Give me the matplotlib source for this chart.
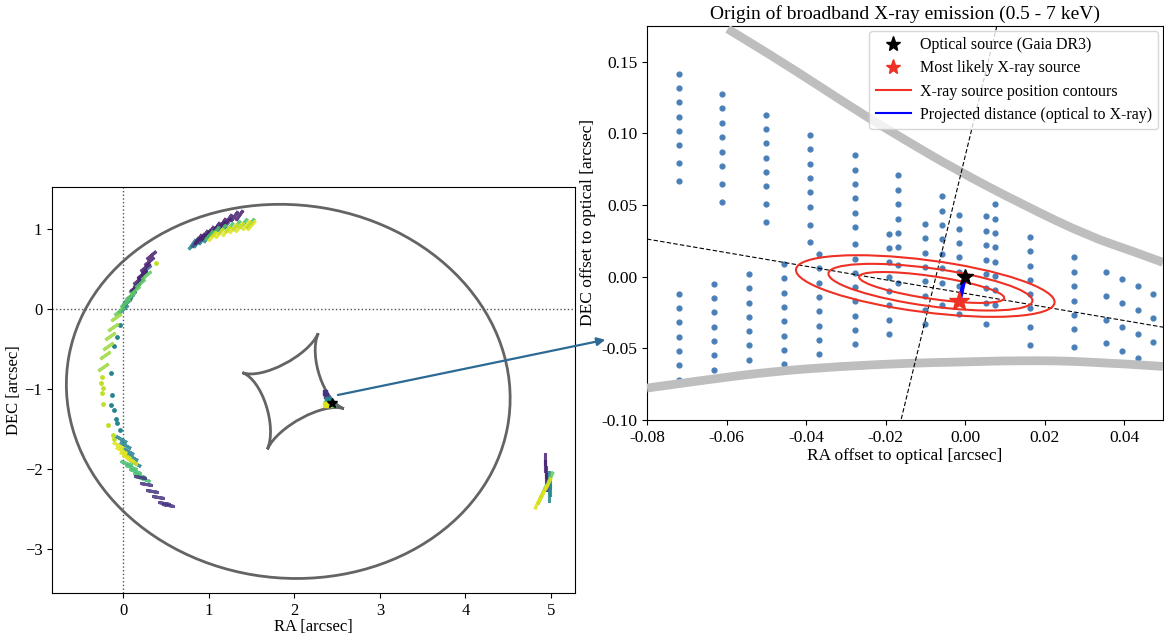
import numpy as np
import matplotlib
matplotlib.use("Agg")
import matplotlib.pyplot as plt
from matplotlib.patches import Ellipse, PathPatch, ConnectionPatch
from matplotlib.path import Path
from matplotlib.lines import Line2D

plt.rcParams["font.family"] = ["Liberation Serif", "DejaVu Serif"]

# ---------- left panel : lens model ----------
# critical curve (centre, semi axes, rotation) and caustic cusps
crit_centre = (1.93, -1.03)
crit_axes = (2.60, 2.33)
crit_angle = -10
cusps_x = [2.28, 1.395, 1.686, 2.58]     # top, left, bottom, right
cusps_y = [-0.304, -0.796, -1.754, -1.246]

# lensed image strands (centres), grouped by colour
top_dark_x = [0.88, 0.95, 1.02, 1.09, 1.16, 1.23, 1.30, 1.36]
top_dark_y = [0.87, 0.93, 0.98, 1.03, 1.08, 1.12, 1.16, 1.18]
top_blue_x = [0.84, 0.91, 0.98, 1.06, 1.14, 1.22]
top_blue_y = [0.84, 0.89, 0.94, 0.99, 1.04, 1.08]
top_teal_x = [0.81, 0.86, 0.92, 0.98]
top_teal_y = [0.81, 0.84, 0.87, 0.90]
top_green_x = [1.00, 1.08, 1.16, 1.24, 1.32, 1.40, 1.48]
top_green_y = [0.93, 0.97, 1.00, 1.03, 1.05, 1.07, 1.07]
top_yellow_x = [1.04, 1.12, 1.20, 1.28, 1.36, 1.44, 1.50]
top_yellow_y = [0.91, 0.95, 0.98, 1.01, 1.03, 1.05, 1.05]

up_dark_x = [0.14, 0.18, 0.22, 0.26, 0.30, 0.33]
up_dark_y = [0.28, 0.36, 0.44, 0.52, 0.60, 0.67]
up_blue_x = [0.05, 0.09, 0.13, 0.17, 0.22, 0.27]
up_blue_y = [0.10, 0.18, 0.26, 0.33, 0.42, 0.50]
up_teal_x = [0.00, 0.03, 0.07]
up_teal_y = [0.00, 0.07, 0.14]
up_green_x = [-0.05, 0.02, 0.08, 0.14, 0.20, 0.27]
up_green_y = [-0.02, 0.08, 0.16, 0.24, 0.32, 0.42]
mid_yellow_x = [-0.08, -0.12, -0.15, -0.18, -0.21, -0.24]
mid_yellow_y = [-0.10, -0.22, -0.34, -0.46, -0.58, -0.72]

low_yellow_x = [-0.06, -0.02, 0.02, 0.06, 0.10]
low_yellow_y = [-1.70, -1.76, -1.82, -1.86, -1.90]
low_teal_x = [-0.02, 0.02, 0.06, 0.10, 0.14]
low_teal_y = [-1.62, -1.70, -1.78, -1.85, -1.92]
low_green_x = [0.04, 0.09, 0.14, 0.19, 0.24]
low_green_y = [-1.93, -1.97, -2.02, -2.07, -2.12]
low_dark_x = [0.20, 0.27, 0.34, 0.41, 0.48, 0.52]
low_dark_y = [-2.10, -2.19, -2.27, -2.35, -2.42, -2.45]

right_dark_x = [4.93, 4.93, 4.94, 4.94, 4.95]
right_dark_y = [-1.88, -1.96, -2.04, -2.12, -2.20]
right_teal_x = [4.98, 4.99, 4.99, 4.98]
right_teal_y = [-2.10, -2.18, -2.26, -2.34]
right_green_x = [4.87, 4.91, 4.95, 4.99]
right_green_y = [-2.36, -2.27, -2.19, -2.10]
right_yellow_x = [4.84, 4.88, 4.92, 4.96]
right_yellow_y = [-2.42, -2.34, -2.26, -2.18]

cau_x = [2.36, 2.37, 2.39, 2.42, 2.38, 2.45, 2.36, 2.40]
cau_y = [-1.04, -1.08, -1.13, -1.16, -1.18, -1.19, -1.19, -1.20]
cau_c = [0.15, 0.15, 0.45, 0.45, 0.7, 0.7, 0.95, 0.95]

# single dots along the left arc
teal_dots_x = [-0.035, -0.074, -0.105, -0.144, -0.125, -0.14, -0.105, -0.085, -0.066, -0.035]
teal_dots_y = [-0.20, -0.35, -0.46, -0.80, -1.075, -1.20, -1.26, -1.37, -1.43, -1.51]
yellow_dots_x = [-0.25, -0.26, -0.24, -0.25, -0.23, -0.18, -0.12, -0.11, 0.38]
yellow_dots_y = [-0.85, -0.92, -0.99, -1.05, -1.19, -1.45, -1.58, -1.63, 0.57]

optical_left = (2.44, -1.18)

# ---------- right panel : zoom on the source ----------
grid_cols_x = [-0.0720, -0.0720, -0.0632, -0.0611, -0.0544, -0.0500, -0.0456, -0.0389,
               -0.0368, -0.0278, -0.0190, -0.0168, -0.0101, -0.0057, -0.0014, 0.0054,
               0.0076, 0.0164, 0.0275, 0.0355, 0.0394, 0.0434, 0.0474]
grid_cols_y = [
    [0.1418, 0.1318, 0.1217, 0.1117, 0.1017, 0.0917, 0.0791, 0.0666],
    [-0.0119, -0.0219, -0.0319, -0.0419, -0.0519, -0.0619, -0.0719],
    [-0.0051, -0.0149, -0.0249, -0.0349, -0.0449, -0.0549, -0.0649],
    [0.1278, 0.1175, 0.1075, 0.0976, 0.0873, 0.0773, 0.0649, 0.0524],
    [0.0019, -0.0082, -0.0182, -0.0279, -0.0379, -0.0480, -0.0580, -0.0677],
    [0.1131, 0.1031, 0.0931, 0.0831, 0.0731, 0.0633, 0.0505, 0.0382],
    [0.0089, -0.0012, -0.0112, -0.0212, -0.0312, -0.0412, -0.0512, -0.0612],
    [0.0990, 0.0889, 0.0789, 0.0689, 0.0589, 0.0489, 0.0363, 0.0240],
    [0.0158, 0.0058, -0.0042, -0.0142, -0.0242, -0.0342, -0.0442, -0.0542],
    [0.0847, 0.0747, 0.0647, 0.0547, 0.0447, 0.0347, 0.0225, 0.0125, 0.0028,
     -0.0072, -0.0172, -0.0272, -0.0372, -0.0473],
    [0.0300, 0.0200, 0.0100, 0.0000, -0.0100, -0.0200, -0.0300, -0.0400],
    [0.0707, 0.0605, 0.0505, 0.0405, 0.0305, 0.0205, 0.0079, -0.0044],
    [0.0368, 0.0268, 0.0168, 0.0068, -0.0033, -0.0133, -0.0233, -0.0333],
    [0.0563, 0.0461, 0.0361, 0.0261, 0.0161, 0.0061, -0.0042, -0.0196],
    [0.0433, 0.0333, 0.0235, 0.0135, 0.0035, -0.0068, -0.0166, -0.0263],
    [0.0421, 0.0319, 0.0219, 0.0119, 0.0019, -0.0082, -0.0182, -0.0330],
    [0.0508, 0.0405, 0.0305, 0.0205, 0.0105, 0.0005, -0.0096, -0.0196],
    [0.0277, 0.0177, 0.0077, -0.0023, -0.0124, -0.0221, -0.0351, -0.0475],
    [0.0135, 0.0035, -0.0065, -0.0166, -0.0267, -0.0368, -0.0491],
    [0.0030, -0.0135, -0.0300, -0.0466],
    [-0.0016, -0.0186, -0.0351, -0.0521],
    [-0.0068, -0.0235, -0.0400, -0.0570],
    [-0.0121, -0.0288, -0.0454],
]

# caustic folds near the cusp (control points of a smooth curve)
fold_up_x = [-0.0597, -0.0483, -0.0366, -0.0249, -0.0148, -0.0023, 0.0145, 0.0312, 0.0420, 0.0498]
fold_up_y = [0.1730, 0.1538, 0.1329, 0.1119, 0.0950, 0.0747, 0.0503, 0.0282, 0.0180, 0.0100]
fold_low_x = [-0.0800, -0.0651, -0.0483, -0.0316, -0.0140, -0.0023, 0.0145, 0.0312, 0.0498]
fold_low_y = [-0.0777, -0.0719, -0.0661, -0.0626, -0.0603, -0.0596, -0.0584, -0.0591, -0.0626]

# X-ray position contours (centre x, centre y, semi-major, semi-minor)
cont_cx = [-0.0100, -0.0087, -0.0084]
cont_cy = [-0.0065, -0.0073, -0.0075]
cont_a = [0.0351, 0.0278, 0.0199]
cont_b = [0.0170, 0.0123, 0.0073]
cont_angle = np.degrees(np.arctan(-0.475))

axis1_x = [-0.08, 0.05]
axis1_y = [0.0263, -0.0353]
axis2_x = [0.0080, -0.0161]
axis2_y = [0.175, -0.10]

optical = (0.0, 0.0)
xray = (-0.0014, -0.0172)


def smooth_path(xs, ys):
    # quadratic B-spline through the read control points
    pts = list(zip(xs, ys))
    verts, codes = [pts[0]], [Path.MOVETO]
    for i in range(1, len(pts) - 1):
        mid = ((pts[i][0] + pts[i + 1][0]) / 2, (pts[i][1] + pts[i + 1][1]) / 2)
        if i == len(pts) - 2:
            mid = pts[-1]
        verts += [pts[i], mid]
        codes += [Path.CURVE3, Path.CURVE3]
    return Path(verts, codes)


# ---------- figure ----------
fig = plt.figure(figsize=(11.64, 6.35), dpi=100)
ax1 = fig.add_axes([52 / 1164, 1 - 593 / 635, 523 / 1164, 406 / 635])
ax2 = fig.add_axes([647 / 1164, 1 - 420 / 635, 516 / 1164, 394 / 635])

# left panel
ax1.add_patch(Ellipse(crit_centre, 2 * crit_axes[0], 2 * crit_axes[1], angle=crit_angle,
                      fill=False, color="#646464", lw=2))
ccx, ccy = np.mean(cusps_x), np.mean(cusps_y)
k = 0.39
verts, codes = [(cusps_x[0], cusps_y[0])], [Path.MOVETO]
for i in range(4):
    p0 = np.array([cusps_x[i], cusps_y[i]])
    p1 = np.array([cusps_x[(i + 1) % 4], cusps_y[(i + 1) % 4]])
    c = np.array([ccx, ccy])
    verts += [tuple(p0 + k * (c - p0)), tuple(p1 + k * (c - p1)), tuple(p1)]
    codes += [Path.CURVE4] * 3
ax1.add_patch(PathPatch(Path(verts, codes), fill=False, color="#646464", lw=2))

ax1.axvline(0, color="#555555", ls=":", lw=1)
ax1.axhline(0, color="#555555", ls=":", lw=1)

cmap = plt.get_cmap("viridis")
bands = [
    (top_teal_x, top_teal_y, 0.45, 55), (top_blue_x, top_blue_y, 0.25, 55),
    (top_dark_x, top_dark_y, 0.08, 55), (top_green_x, top_green_y, 0.72, 50),
    (top_yellow_x, top_yellow_y, 0.95, 50),
    (up_blue_x, up_blue_y, 0.3, 40), (up_dark_x, up_dark_y, 0.08, 40),
    (up_teal_x, up_teal_y, 0.45, 40), (up_green_x, up_green_y, 0.75, 40),
    (mid_yellow_x, mid_yellow_y, 0.85, 35),
    (low_teal_x, low_teal_y, 0.45, -30), (low_yellow_x, low_yellow_y, 0.95, -30),
    (low_green_x, low_green_y, 0.7, -20), (low_dark_x, low_dark_y, 0.15, -10),
    (right_dark_x, right_dark_y, 0.1, 90), (right_teal_x, right_teal_y, 0.45, 90),
    (right_green_x, right_green_y, 0.75, 65), (right_yellow_x, right_yellow_y, 0.95, 65),
]
for bx, by, cv, ang in bands:
    ax1.plot(bx, by, ls="none", marker=(2, 2, ang - 90), ms=9, mew=2.2,
             color=cmap(cv), alpha=0.85)
ax1.scatter(cau_x, cau_y, c=cau_c, cmap="viridis", vmin=0, vmax=1, s=12, marker="s")
ax1.scatter(teal_dots_x, teal_dots_y, color=cmap(0.45), s=6)
ax1.scatter(yellow_dots_x, yellow_dots_y, color=cmap(0.9), s=6)
ax1.plot(*optical_left, marker="*", color="k", ms=7, ls="none")

ax1.set_xlim(-0.83, 5.28)
ax1.set_ylim(-3.55, 1.525)
ax1.set_xticks([0, 1, 2, 3, 4, 5])
ax1.set_yticks([-3, -2, -1, 0, 1])
ax1.tick_params(labelsize=12)
ax1.set_xlabel("RA [arcsec]", fontsize=12, labelpad=0)
ax1.set_ylabel("DEC [arcsec]", fontsize=12, labelpad=2)

# right panel
for gx, gys in zip(grid_cols_x, grid_cols_y):
    ax2.scatter([gx] * len(gys), gys, color="#4a80b8", s=12, zorder=2)
for fx, fy in [(fold_up_x, fold_up_y), (fold_low_x, fold_low_y)]:
    ax2.add_patch(PathPatch(smooth_path(fx, fy), fill=False, color="#bebebe",
                            lw=6.3, zorder=3, capstyle="butt"))
ax2.plot(axis1_x, axis1_y, color="k", ls="--", lw=0.8, dashes=(4, 2), zorder=4)
ax2.plot(axis2_x, axis2_y, color="k", ls="--", lw=0.8, dashes=(4, 2), zorder=4)
for cx, cy, a, b in zip(cont_cx, cont_cy, cont_a, cont_b):
    ax2.add_patch(Ellipse((cx, cy), 2 * a, 2 * b, angle=cont_angle, fill=False,
                          color="#ee3124", lw=1.5, zorder=5))
ax2.plot([optical[0], xray[0]], [optical[1], xray[1]], color="blue", lw=3, zorder=6)
ax2.plot(*xray, marker="*", color="#ee3124", ms=15, ls="none", zorder=7)
ax2.plot(*optical, marker="*", color="k", ms=12, ls="none", zorder=8)

ax2.set_xlim(-0.08, 0.0498)
ax2.set_ylim(-0.10, 0.175)
ax2.set_xticks([-0.08, -0.06, -0.04, -0.02, 0.0, 0.02, 0.04])
ax2.set_yticks([-0.10, -0.05, 0.0, 0.05, 0.10, 0.15])
ax2.xaxis.set_major_formatter(plt.FormatStrFormatter("%.2f"))
ax2.yaxis.set_major_formatter(plt.FormatStrFormatter("%.2f"))
ax2.tick_params(labelsize=12.5)
ax2.set_xlabel("RA offset to optical [arcsec]", fontsize=12.5, labelpad=2)
ax2.set_ylabel("DEC offset to optical [arcsec]", fontsize=12.5, labelpad=4)
ax2.set_title("Origin of broadband X-ray emission (0.5 - 7 keV)", fontsize=14, pad=5)

handles = [
    Line2D([], [], marker="*", color="k", ls="none", ms=11),
    Line2D([], [], marker="*", color="#ee3124", ls="none", ms=11),
    Line2D([], [], color="#ee3124", lw=1.5),
    Line2D([], [], color="blue", lw=1.5),
]
labels = ["Optical source (Gaia DR3)", "Most likely X-ray source",
          "X-ray source position contours", "Projected distance (optical to X-ray)"]
ax2.legend(handles, labels, loc="upper right", fontsize=11.5, borderaxespad=0.3,
           handlelength=2.2, handletextpad=0.55, labelspacing=0.45)

# arrow linking the two panels
con = ConnectionPatch(xyA=(2.51, -1.075), coordsA=ax1.transData,
                      xyB=(-0.0905, -0.044), coordsB=ax2.transData,
                      arrowstyle="-|>", color="#2c6a93", lw=1.6, mutation_scale=12)
fig.add_artist(con)

fig.savefig("out.png", dpi=100)
